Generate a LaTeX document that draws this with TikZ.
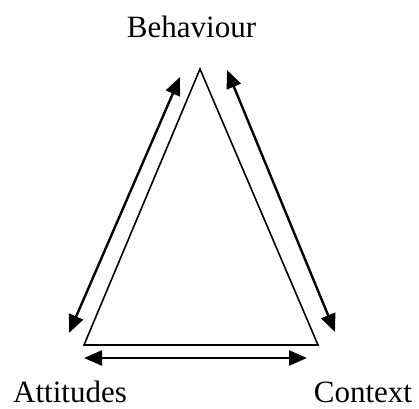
\documentclass[tikz,border=0pt]{standalone}
\usepackage{fontspec}
\setmainfont{Liberation Serif}
\usetikzlibrary{arrows.meta}
\tikzset{
  label/.style={anchor=base, inner sep=0pt, font=\fontsize{31}{37}\selectfont},
  twoway/.style={line width=2.4pt, {Triangle[length=18pt,width=15pt]}-{Triangle[length=18pt,width=15pt]}}
}
\begin{document}
\begin{tikzpicture}[x=1pt,y=1pt]
\useasboundingbox (0,0) rectangle (419,408);

% Corners
\coordinate (top) at (200,339);
\coordinate (bl) at (84,63);
\coordinate (br) at (318,63);

% Triangle
\draw[line width=1.6pt, line join=miter] (top) -- (br) -- (bl) -- cycle;

% Labels
\node[label] (beh) at (191.5,370.5) {Behaviour};
\node[label] (att) at (70,6) {Attitudes};
\node[label] (ctx) at (363,6) {Context};

% Arrow ends
\coordinate (l1) at (180,331);
\coordinate (l2) at (69,75);
\coordinate (r1) at (227,338);
\coordinate (r2) at (335,76);
\coordinate (b1) at (84,50);
\coordinate (b2) at (307,50);

% Arrows
\draw[twoway] (l1) -- (l2);
\draw[twoway] (r1) -- (r2);
\draw[twoway] (b1) -- (b2);

\end{tikzpicture}
\end{document}
